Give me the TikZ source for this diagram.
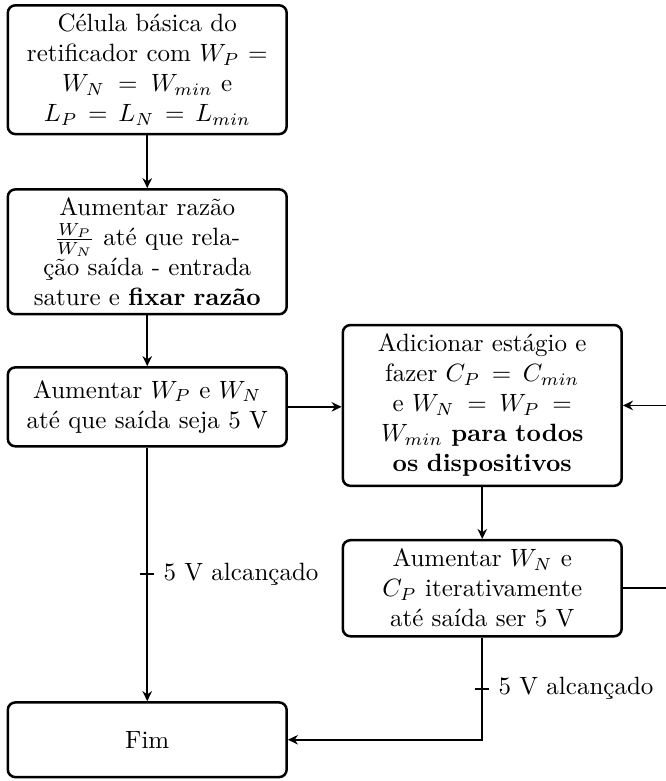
\documentclass[tikz,border=0pt]{standalone}
\usepackage{amsmath,amssymb}
\usepackage{tikz}
\usetikzlibrary{calc, arrows.meta}
\tikzset{
  % Box styles
  stepbox/.style={rectangle, rounded corners=3pt, draw=black, line width=1pt, minimum width=3.92cm, text width=3.68cm, align=center, inner sep=0.333em},
  % Arrow styles
  arrow/.style={-{Stealth[length=4pt, width=3.8pt, inset=1.3pt]}, line width=0.7pt, black},
  flowline/.style={line width=0.7pt, black}
}
\begin{document}
\begin{tikzpicture}
  \useasboundingbox (0,0) rectangle (9.35,-10.98);

  % Left column
  \node[stepbox, minimum height=1.81cm] (cell) at (2.07,-0.98) {C\'elula b\'asica do\\ retificador com $W_P =$\\ $W_N = W_{min}$ e\\ $L_P = L_N = L_{min}$};
  \node[stepbox, minimum height=1.73cm] (ratio) at (2.07,-3.54) {Aumentar raz\~ao\\ $\frac{W_P}{W_N}$ at\'e que rela-\\ \c{c}\~ao sa\'ida - entrada\\ sature e \textbf{fixar raz\~ao}};
  \node[stepbox, minimum height=1.11cm] (sizing) at (2.07,-5.72) {Aumentar $W_P$ e $W_N$\\ at\'e que sa\'ida seja 5 V};

  % Right column
  \node[stepbox, minimum height=2.26cm] (addstage) at (6.78,-5.70) {Adicionar est\'agio e\\ fazer $C_P = C_{min}$\\ e $W_N = W_P =$\\ $W_{min}$ \textbf{para todos}\\ \textbf{os dispositivos}};
  \node[stepbox, minimum height=1.35cm] (iterate) at (6.78,-8.27) {Aumentar $W_N$ e\\ $C_P$ iterativamente\\ at\'e sa\'ida ser 5 V};

  % End
  \node[stepbox, minimum height=1.05cm] (fim) at (2.07,-10.40) {Fim};

  % Arrows
  \draw[arrow] (cell) -- (ratio);
  \draw[arrow] (ratio) -- (sizing);
  \draw[arrow] (sizing.east) -- (sizing.east -| addstage.west);
  \draw[arrow] (addstage) -- (iterate);
  \draw[arrow] (iterate.east) -- ++(0.8,0) |- (addstage.east);
  \draw[arrow] (sizing) -- coordinate[pos=0.5] (okleft) (fim);
  \draw[arrow] (iterate) |- coordinate[pos=0.25] (okright) (fim);

  % Edge labels
  \draw[flowline] ($(okleft)+(-0.1,0)$) -- ($(okleft)+(0.1,0)$) node[right] {5 V alcan\c{c}ado};
  \draw[flowline] ($(okright)+(-0.1,0)$) -- ($(okright)+(0.1,0)$) node[right] {5 V alcan\c{c}ado};
\end{tikzpicture}
\end{document}
